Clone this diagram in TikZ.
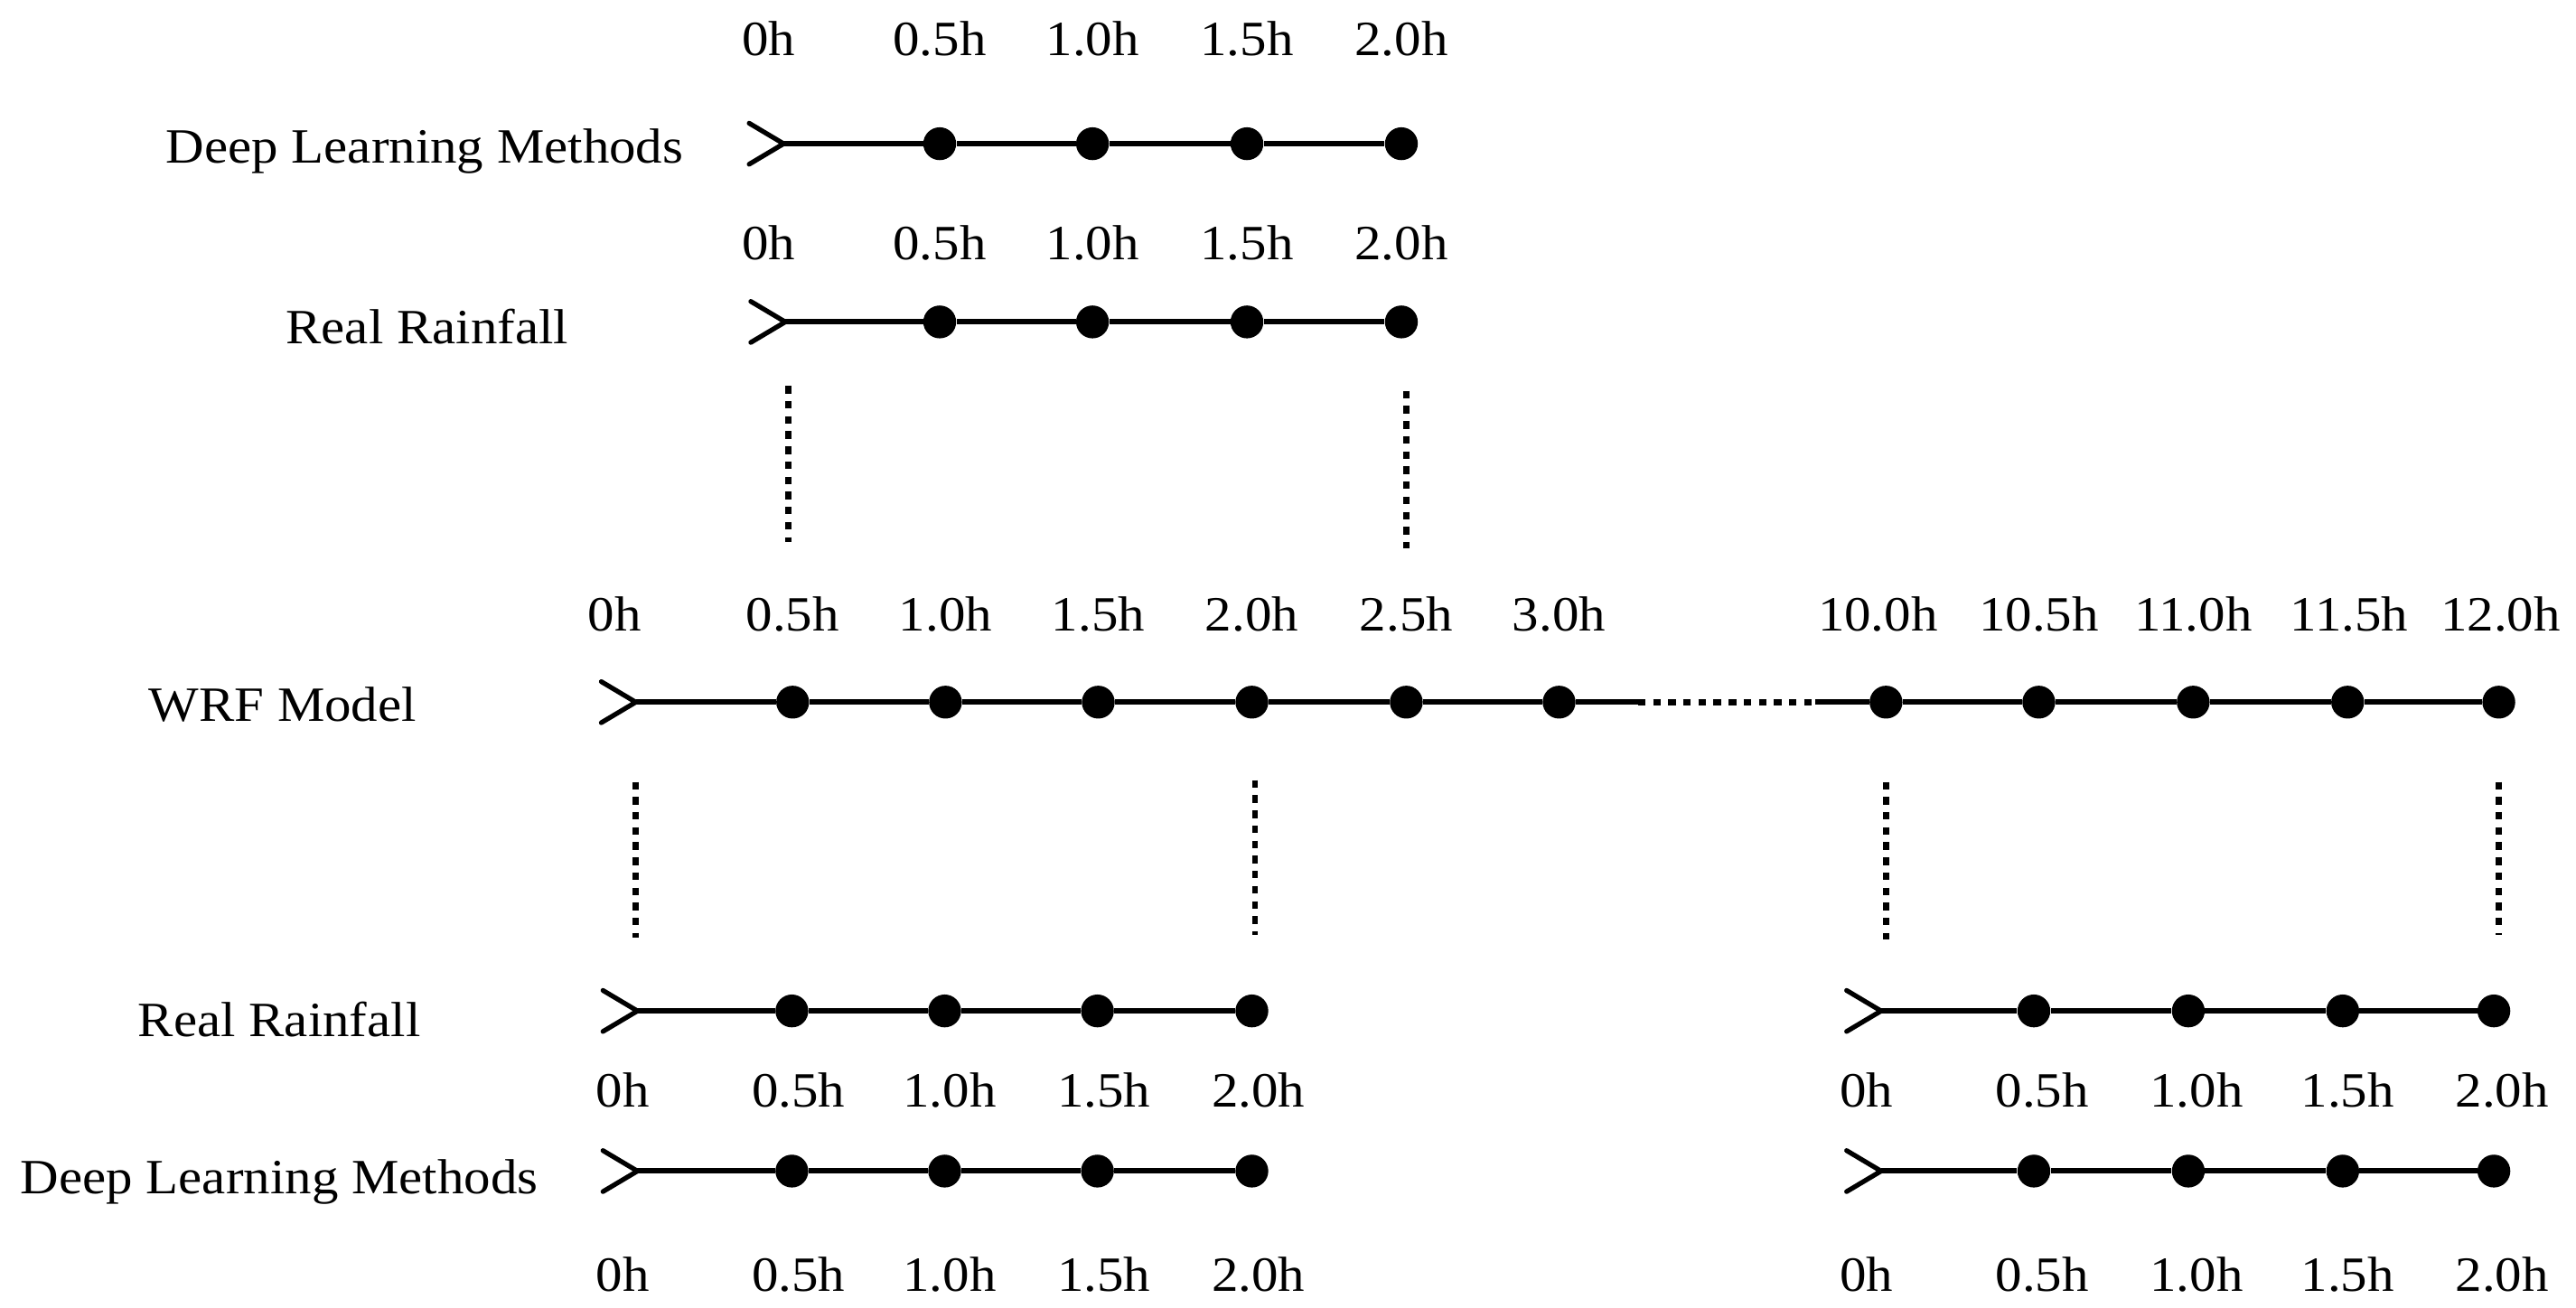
\documentclass[tikz,border=0pt]{standalone}
\usepackage{fontspec}
\setmainfont{Liberation Serif}
\newcommand{\lb}[1]{\scalebox{1.08}[1]{#1}}
\begin{document}
\begin{tikzpicture}[x=1pt,y=-1pt,
  txt/.style={anchor=base, inner sep=0pt, font=\fontsize{30}{36}\selectfont},
  dotn/.style={circle, fill=black, draw=none, inner sep=0pt, minimum size=20pt},
  tline/.style={line width=3.3pt},
  chev/.style={line width=2.9pt, line join=round, line cap=round},
  dotl/.style={line width=3.6pt, dash pattern=on 4.6pt off 4.6pt}
]
\useasboundingbox (0,0) rectangle (1568,796);

% ---------- Row A: Deep Learning Methods (top) ----------
\node[txt] (tA) at (258.5,99) {\lb{Deep Learning Methods}};
\coordinate (sA) at (477,87.5);
\foreach \x [count=\i] in {572,665,759,853} \node[dotn] (a\i) at (\x,87.5) {};
\draw[tline] (sA) -- (a1) -- (a2) -- (a3) -- (a4);
\draw[chev] (sA) ++(-21,-12.5) -- (sA) -- ++(-21,12.5);
\foreach \x/\t [count=\i] in {468/0h,572/0.5h,665/1.0h,759/1.5h,853/2.0h}
  \node[txt] (la\i) at (\x,34) {\lb{\t}};

% ---------- Row B: Real Rainfall (top) ----------
\node[txt] (tB) at (260,209) {\lb{Real Rainfall}};
\coordinate (sB) at (478,196);
\foreach \x [count=\i] in {572,665,759,853} \node[dotn] (b\i) at (\x,196) {};
\draw[tline] (sB) -- (b1) -- (b2) -- (b3) -- (b4);
\draw[chev] (sB) ++(-21,-12.5) -- (sB) -- ++(-21,12.5);
\foreach \x/\t [count=\i] in {468/0h,572/0.5h,665/1.0h,759/1.5h,853/2.0h}
  \node[txt] (lb\i) at (\x,158) {\lb{\t}};

% top vertical dotted lines
\coordinate (v1t) at (480,235); \coordinate (v1b) at (480,330);
\coordinate (v2t) at (856,238); \coordinate (v2b) at (856,334);
\draw[dotl] (v1t) -- (v1b);
\draw[dotl] (v2t) -- (v2b);

% ---------- Row C: WRF Model ----------
\node[txt] (tC) at (172,439) {\lb{WRF Model}};
\coordinate (sC) at (387,427.5);
\foreach \x [count=\i] in {482.5,575.5,668.5,762,856,949,1148,1241,1335,1429,1521}
  \node[dotn] (c\i) at (\x,427.5) {};
\coordinate (g1) at (997,427.5);
\coordinate (g2) at (1105,427.5);
\draw[tline] (sC) -- (c1) -- (c2) -- (c3) -- (c4) -- (c5) -- (c6) -- (g1);
\draw[dotl] (g1) -- (g2);
\draw[tline] (g2) -- (c7) -- (c8) -- (c9) -- (c10) -- (c11);
\draw[chev] (sC) ++(-21,-12.5) -- (sC) -- ++(-21,12.5);
\foreach \x/\t [count=\i] in {374/0h,482.5/0.5h,575.5/1.0h,668.5/1.5h,762/2.0h,856/2.5h,949/3.0h,1143/10.0h,1241/10.5h,1335/11.0h,1430/11.5h,1522/12.0h}
  \node[txt] (lc\i) at (\x,384) {\lb{\t}};

% bottom vertical dotted lines
\coordinate (w1t) at (387,476); \coordinate (w1b) at (387,571);
\coordinate (w2t) at (764,475); \coordinate (w2b) at (764,569);
\coordinate (w3t) at (1148,476); \coordinate (w3b) at (1148,572);
\coordinate (w4t) at (1521,476); \coordinate (w4b) at (1521,569);
\draw[dotl] (w1t) -- (w1b);
\draw[dotl] (w2t) -- (w2b);
\draw[dotl] (w3t) -- (w3b);
\draw[dotl] (w4t) -- (w4b);

% ---------- Row D: Real Rainfall (bottom) ----------
\node[txt] (tD) at (170,631) {\lb{Real Rainfall}};
\coordinate (sD) at (388,615.5);
\foreach \x [count=\i] in {482,575,668,762} \node[dotn] (d\i) at (\x,615.5) {};
\draw[tline] (sD) -- (d1) -- (d2) -- (d3) -- (d4);
\draw[chev] (sD) ++(-21,-12.5) -- (sD) -- ++(-21,12.5);
\coordinate (sDr) at (1145,615.5);
\foreach \x [count=\i] in {1238,1332,1426,1518} \node[dotn] (dr\i) at (\x,615.5) {};
\draw[tline] (sDr) -- (dr1) -- (dr2) -- (dr3) -- (dr4);
\draw[chev] (sDr) ++(-21,-12.5) -- (sDr) -- ++(-21,12.5);
\foreach \x/\t [count=\i] in {379/0h,486/0.5h,578/1.0h,672/1.5h,766/2.0h,1136/0h,1243/0.5h,1337/1.0h,1429/1.5h,1523/2.0h}
  \node[txt] (ld\i) at (\x,674) {\lb{\t}};

% ---------- Row E: Deep Learning Methods (bottom) ----------
\node[txt] (tE) at (170,727) {\lb{Deep Learning Methods}};
\coordinate (sE) at (388,713);
\foreach \x [count=\i] in {482,575,668,762} \node[dotn] (e\i) at (\x,713) {};
\draw[tline] (sE) -- (e1) -- (e2) -- (e3) -- (e4);
\draw[chev] (sE) ++(-21,-12.5) -- (sE) -- ++(-21,12.5);
\coordinate (sEr) at (1145,713);
\foreach \x [count=\i] in {1238,1332,1426,1518} \node[dotn] (er\i) at (\x,713) {};
\draw[tline] (sEr) -- (er1) -- (er2) -- (er3) -- (er4);
\draw[chev] (sEr) ++(-21,-12.5) -- (sEr) -- ++(-21,12.5);
\foreach \x/\t [count=\i] in {379/0h,486/0.5h,578/1.0h,672/1.5h,766/2.0h,1136/0h,1243/0.5h,1337/1.0h,1429/1.5h,1523/2.0h}
  \node[txt] (le\i) at (\x,786) {\lb{\t}};
\end{tikzpicture}
\end{document}
